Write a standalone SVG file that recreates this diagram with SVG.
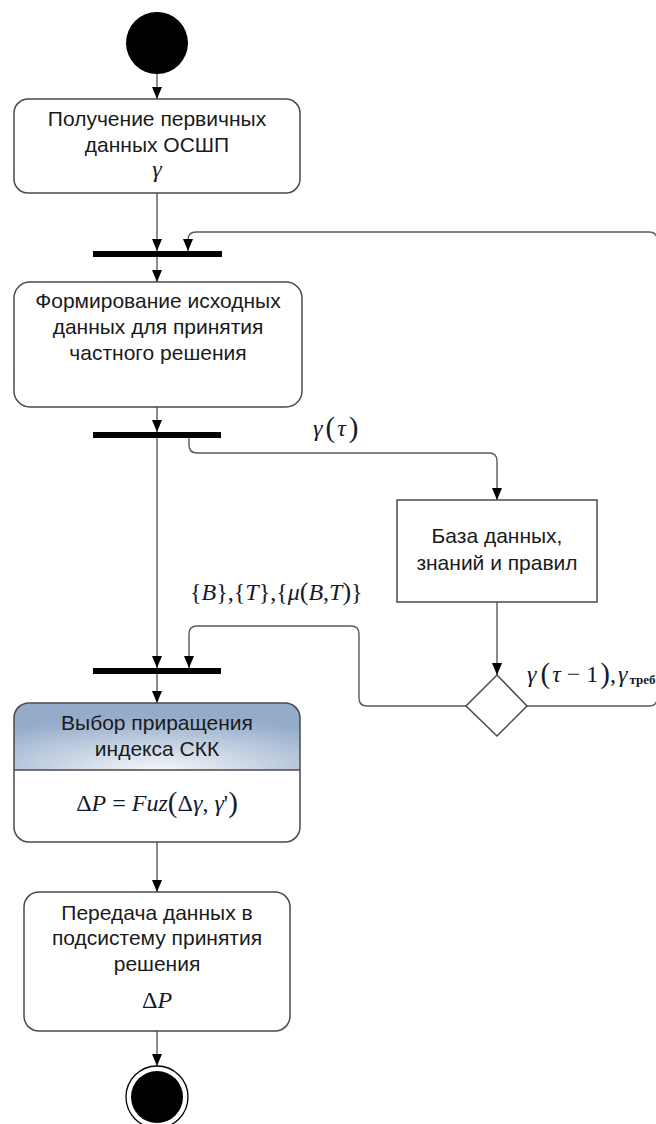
<svg xmlns="http://www.w3.org/2000/svg" width="656" height="1124" viewBox="0 0 656 1124">
<defs>
<style>
.box{fill:#fff;stroke:#4a4a4a;stroke-width:1.5}
.bar{fill:#000}
.con{fill:none;stroke:#5a5a5a;stroke-width:1.4}
.t{font-family:"Liberation Sans",Arial,sans-serif;font-size:21px;fill:#1a1a1a;text-anchor:middle}
.m{font-family:"Liberation Serif","Times New Roman",serif;font-size:24px;fill:#141a2e}
.i{font-style:italic}
.p{font-size:29px}
</style>
<marker id="arr" viewBox="0 0 12 10" refX="12" refY="5" markerWidth="12" markerHeight="10" markerUnits="userSpaceOnUse" orient="auto">
<path d="M0,0 L12,5 L0,10 z" fill="#000"/>
</marker>
<radialGradient id="hdr" cx="50%" cy="100%" r="80%" fx="50%" fy="100%">
<stop offset="0" stop-color="#f4f6fa"/>
<stop offset="1" stop-color="#94abca"/>
</radialGradient>
</defs>

<g id="connectors">
<path class="con" d="M157,74 V99" marker-end="url(#arr)"/>
<path class="con" d="M157,193 V251" marker-end="url(#arr)"/>
<path class="con" d="M157,257 V282" marker-end="url(#arr)"/>
<path class="con" d="M157,407 V432" marker-end="url(#arr)"/>
<path class="con" d="M157,438 V668" marker-end="url(#arr)"/>
<path class="con" d="M189,438 V445 Q189,453 197,453 H489 Q497,453 497,461 V500" marker-end="url(#arr)"/>
<path class="con" d="M497,602 V675" marker-end="url(#arr)"/>
<path class="con" d="M466,706 H367 Q359,706 359,698 V634 Q359,626 351,626 H197 Q189,626 189,634 V668" marker-end="url(#arr)"/>
<path class="con" d="M527,706 H649 Q657,706 657,698 V240 Q657,232 649,232 H196 Q188,232 188,240 V251" marker-end="url(#arr)"/>
<path class="con" d="M157,674 V703" marker-end="url(#arr)"/>
<path class="con" d="M157,842 V892" marker-end="url(#arr)"/>
<path class="con" d="M157,1031 V1066" marker-end="url(#arr)"/>
</g>

<g id="start">
<circle cx="157" cy="43" r="31" fill="#000"/>
</g>

<g id="node-receive">
<rect class="box" x="14" y="99" width="286" height="94" rx="14"/>
<text class="t" x="157" y="126">Получение первичных</text>
<text class="t" x="157" y="152">данных ОСШП</text>
<text class="m i" x="157" y="177" text-anchor="middle" font-size="22">γ</text>
</g>

<g id="bar1"><rect class="bar" x="93" y="251" width="129" height="6"/></g>

<g id="node-form">
<rect class="box" x="14" y="282" width="288" height="125" rx="16"/>
<text class="t" x="158" y="308" font-size="20">Формирование исходных</text>
<text class="t" x="158" y="334" font-size="20">данных для принятия</text>
<text class="t" x="158" y="360" font-size="20">частного решения</text>
</g>

<g id="bar2"><rect class="bar" x="93" y="432" width="128" height="6"/></g>

<g id="label-gamma-tau">
<text class="m" x="313" y="436"><tspan class="i">γ</tspan><tspan class="p" dx="3" dy="1">(</tspan><tspan class="i" dx="2" dy="-1">τ</tspan><tspan class="p" dx="3" dy="1">)</tspan></text>
</g>

<g id="node-db">
<rect x="397" y="500" width="200" height="102" fill="#fff" stroke="#4a4a4a" stroke-width="1.5"/>
<text class="t" x="497" y="543">База данных,</text>
<text class="t" x="497" y="570">знаний и правил</text>
</g>

<g id="label-sets">
<text class="m" x="190" y="600" font-size="22"><tspan font-size="24">{</tspan><tspan class="i">B</tspan><tspan font-size="24">}</tspan>,<tspan font-size="24">{</tspan><tspan class="i">T</tspan><tspan font-size="24">}</tspan>,<tspan font-size="24">{</tspan><tspan class="i">μ</tspan><tspan font-size="26">(</tspan><tspan class="i">B</tspan>,<tspan class="i">T</tspan><tspan font-size="26">)</tspan><tspan font-size="24">}</tspan></text>
</g>

<g id="decision">
<polygon points="497,675 527,706 497,736 466,706" fill="#fff" stroke="#4a4a4a" stroke-width="1.5"/>
</g>

<g id="label-gamma-prev">
<text class="m" x="527" y="682"><tspan class="i">γ</tspan><tspan class="p" dx="4" dy="1">(</tspan><tspan class="i" dx="2" dy="-1">τ</tspan> − 1<tspan class="p" dx="2" dy="1">)</tspan><tspan dy="-1">,</tspan><tspan class="i" dx="2">γ</tspan><tspan font-size="13" font-weight="bold" dx="2" dy="2">треб</tspan></text>
</g>

<g id="bar3"><rect class="bar" x="93" y="668" width="128" height="6"/></g>

<g id="node-select">
<rect x="14" y="703" width="286" height="139" rx="15" fill="#fff"/>
<path d="M14,770 V718 Q14,703 29,703 H285 Q300,703 300,718 V770 Z" fill="url(#hdr)"/>
<line x1="14" y1="770" x2="300" y2="770" stroke="#4a4a4a" stroke-width="1.3"/>
<rect x="14" y="703" width="286" height="139" rx="15" fill="none" stroke="#4a4a4a" stroke-width="1.5"/>
<text class="t" x="157" y="730">Выбор приращения</text>
<text class="t" x="157" y="756">индекса СКК</text>
<text class="m" x="157" y="811" text-anchor="middle" font-size="25">Δ<tspan class="i">P</tspan> = <tspan class="i">Fuz</tspan><tspan class="p" dy="1">(</tspan><tspan dy="-1">Δ</tspan><tspan class="i">γ</tspan>, <tspan class="i">γ</tspan>'<tspan class="p" dy="1">)</tspan></text>
</g>

<g id="node-transfer">
<rect class="box" x="24" y="892" width="266" height="139" rx="15"/>
<text class="t" x="157" y="920">Передача данных в</text>
<text class="t" x="157" y="945">подсистему принятия</text>
<text class="t" x="157" y="971">решения</text>
<text class="m" x="157" y="1008" text-anchor="middle" font-size="25">Δ<tspan class="i">P</tspan></text>
</g>

<g id="end">
<circle cx="157" cy="1097" r="31" fill="#fff" stroke="#000" stroke-width="1.3"/>
<circle cx="157" cy="1097" r="26" fill="#000"/>
</g>
</svg>
